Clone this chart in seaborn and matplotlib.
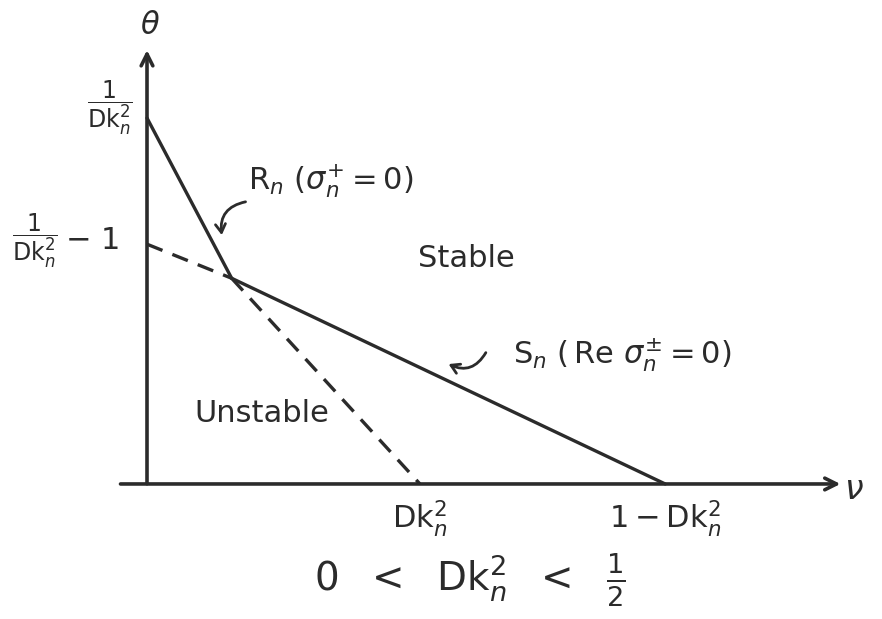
import matplotlib
matplotlib.use("Agg")
import matplotlib.pyplot as plt
import seaborn as sns
import pandas as pd

# Parameter regime 0 < Dk_n^2 < 1/2
dk2 = 0.345
theta_R0 = 2.9          # 1/(Dk_n^2), R_n intercept on theta axis
theta_S0 = 1.9          # 1/(Dk_n^2) - 1, S_n intercept on theta axis
nu_R0 = dk2             # Dk_n^2, R_n intercept on nu axis
nu_S0 = 0.655           # 1 - Dk_n^2, S_n intercept on nu axis
nu_cross = 0.107        # where R_n and S_n intersect
theta_cross = 1.63

# Segments: (nu, theta, style)
segments = {
    "R_n solid": ([0.0, nu_cross], [theta_R0, theta_cross], "-"),
    "R_n dashed": ([nu_cross, nu_R0], [theta_cross, 0.0], (0, (5, 3.2))),
    "S_n dashed": ([0.0, nu_cross], [theta_S0, theta_cross], (0, (5, 3.2))),
    "S_n solid": ([nu_cross, nu_S0], [theta_cross, 0.0], "-"),
}

sns.set_theme(style="white")
plt.rcParams["font.family"] = ["DejaVu Sans"]
plt.rcParams["mathtext.fontset"] = "dejavusans"

ink = "#2b2b2b"
fig = plt.figure(figsize=(8.82, 6.19), dpi=100)
ax = fig.add_axes([0, 0, 1, 1])
ax.set_xlim(-0.1858, 0.929)
ax.set_ylim(-1.070, 3.835)
ax.axis("off")

for name, (nus, thetas, ls) in segments.items():
    df = pd.DataFrame({"nu": nus, "theta": thetas})
    sns.lineplot(data=df, x="nu", y="theta", ax=ax, color=ink, lw=2.4,
                 linestyle=ls, sort=False, legend=False)

# Coordinate axes with open arrowheads
arrow = dict(arrowstyle="->,head_length=0.7,head_width=0.35", color=ink, lw=2.6)
ax.annotate("", xy=(0.880, 0.0), xytext=(-0.037, 0.0), arrowprops=arrow)
ax.annotate("", xy=(0.0, 3.46), xytext=(0.0, -0.02), arrowprops=arrow)

fs = 22
ax.text(0.004, 3.63, r"$\theta$", fontsize=fs, ha="center", va="center", color=ink)
ax.text(0.893, -0.04, r"$\nu$", fontsize=fs + 2, ha="center", va="center", color=ink)

frac = r"$\dfrac{1}{\mathrm{Dk}_n^2}$"
ax.text(-0.047, 2.98, frac, fontsize=17, ha="center", va="center", color=ink)
ax.text(-0.142, 1.93, frac, fontsize=17, ha="center", va="center", color=ink)
ax.text(-0.070, 1.93, r"$-\ 1$", fontsize=fs, ha="center", va="center", color=ink)

ax.text(0.232, 2.4, r"$\mathrm{R}_n\ (\sigma_n^{+}=0)$", fontsize=fs,
        ha="center", va="center", color=ink)
ax.text(0.404, 1.79, "Stable", fontsize=fs, ha="center", va="center", color=ink)
ax.text(0.60, 1.02, r"$\mathrm{S}_n\ (\,\mathrm{Re}\ \sigma_n^{\pm}=0)$", fontsize=fs,
        ha="center", va="center", color=ink)
ax.text(0.145, 0.56, "Unstable", fontsize=fs, ha="center", va="center", color=ink)

ax.text(nu_R0, -0.27, r"$\mathrm{Dk}_n^2$", fontsize=fs, ha="center", va="center", color=ink)
ax.text(nu_S0, -0.27, r"$1-\mathrm{Dk}_n^2$", fontsize=fs, ha="center", va="center", color=ink)
ax.text(0.408, -0.76, r"$0\ \ <\ \ \mathrm{Dk}_n^2\ \ <\ \ \frac{1}{2}$", fontsize=28,
        ha="center", va="center", color=ink)

# Squiggly pointers from the labels to their curves
pointer = dict(arrowstyle="->,head_length=0.5,head_width=0.3", color=ink, lw=2.0,
               connectionstyle="arc3,rad=0.5")
ax.annotate("", xy=(0.095, 1.95), xytext=(0.128, 2.24), arrowprops=pointer)
ax.annotate("", xy=(0.378, 0.96), xytext=(0.430, 1.06),
            arrowprops=dict(pointer, connectionstyle="arc3,rad=-0.5"))

fig.savefig("out.png", dpi=100, facecolor="white")
